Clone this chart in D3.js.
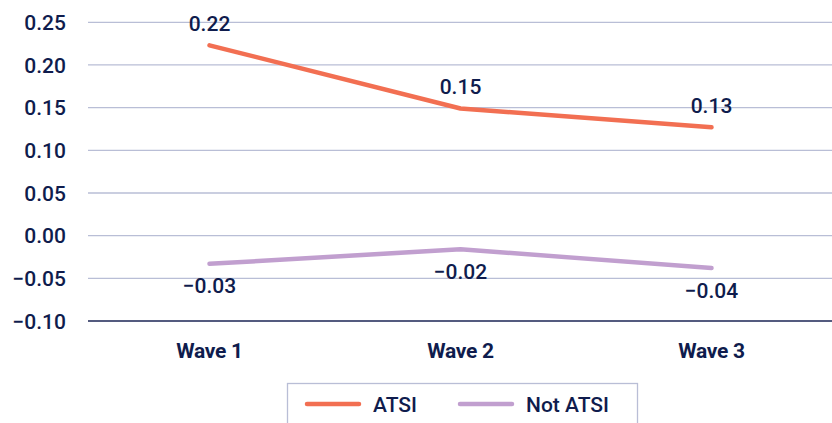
<!DOCTYPE html>
<html><head><meta charset="utf-8">
<script src="https://cdn.jsdelivr.net/npm/d3@7"></script>
<style>
html,body{margin:0;padding:0;background:#fff;}
svg{display:block;font-family:Roboto, "Noto Sans", sans-serif;}
</style></head>
<body><svg id="c" width="832" height="423"></svg>
<script>
const categories = ["Wave 1", "Wave 2", "Wave 3"];
const atsi = [0.223, 0.149, 0.127];
const notAtsi = [-0.033, -0.016, -0.038];
const atsiLabels = ["0.22", "0.15", "0.13"];
const notAtsiLabels = ["\u22120.03", "\u22120.02", "\u22120.04"];
const yTicks = [-0.10, -0.05, 0.00, 0.05, 0.10, 0.15, 0.20, 0.25];
const seriesNames = ["ATSI", "Not ATSI"];
const colors = ["#f26f52", "#c19fcf"];
const navy = "#0f1c4d";

const svg = d3.select("#c");
const x = d3.scaleBand().domain(categories).range([84, 837]);
const y = d3.scaleLinear().domain([-0.10, 0.25]).range([321, 22.3]);
const cx = c => x(c) + x.bandwidth() / 2;

// gridlines
svg.append("g").selectAll("line").data(yTicks.filter(t => t > -0.1)).join("line")
  .attr("x1", 88).attr("x2", 832)
  .attr("y1", d => y(d)).attr("y2", d => y(d))
  .attr("stroke", "#b9bed6").attr("stroke-width", 1.3);
// baseline axis
svg.append("line").attr("x1", 88).attr("x2", 832).attr("y1", y(-0.10)).attr("y2", y(-0.10))
  .attr("stroke", "#1b2554").attr("stroke-width", 1.5);

// y tick labels
const fmt = v => (v < 0 ? "\u2212" : "") + Math.abs(v).toFixed(2);
svg.append("g").selectAll("text").data(yTicks).join("text")
  .attr("x", 66).attr("y", d => y(d)).attr("dy", "0.36em")
  .attr("text-anchor", "end").attr("font-size", 21).attr("font-weight", 500).attr("fill", navy)
  .text(fmt);

// x labels
svg.append("g").selectAll("text").data(categories).join("text")
  .attr("x", d => cx(d)).attr("y", 358).attr("text-anchor", "middle")
  .attr("font-size", 21).attr("font-weight", 700).attr("fill", navy)
  .attr("letter-spacing", "-0.3")
  .text(d => d);

const line = d3.line().x((d, i) => cx(categories[i])).y(d => y(d));
[atsi, notAtsi].forEach((s, k) => {
  svg.append("path").datum(s).attr("d", line).attr("fill", "none")
    .attr("stroke", colors[k]).attr("stroke-width", 4.5)
    .attr("stroke-linecap", "round").attr("stroke-linejoin", "round");
});

// data labels
svg.append("g").selectAll("text").data(atsi).join("text")
  .attr("x", (d, i) => cx(categories[i])).attr("y", d => y(d) - 22).attr("dy", "0.36em")
  .attr("text-anchor", "middle").attr("font-size", 21).attr("font-weight", 500).attr("fill", navy)
  .text((d, i) => atsiLabels[i]);
svg.append("g").selectAll("text").data(notAtsi).join("text")
  .attr("x", (d, i) => cx(categories[i])).attr("y", d => y(d) + 22).attr("dy", "0.36em")
  .attr("text-anchor", "middle").attr("font-size", 21).attr("font-weight", 500).attr("fill", navy)
  .text((d, i) => notAtsiLabels[i]);

// legend
const lg = svg.append("g");
lg.append("rect").attr("x", 287.5).attr("y", 383.5).attr("width", 350).attr("height", 50)
  .attr("fill", "#fff").attr("stroke", "#b9bed6").attr("stroke-width", 1.3);
const legX = [307, 460];
seriesNames.forEach((n, k) => {
  lg.append("line").attr("x1", legX[k]).attr("x2", legX[k] + 52).attr("y1", 404).attr("y2", 404)
    .attr("stroke", colors[k]).attr("stroke-width", 4.5).attr("stroke-linecap", "round");
  lg.append("text").attr("x", legX[k] + 66).attr("y", 404).attr("dy", "0.36em")
    .attr("font-size", 21).attr("font-weight", 500).attr("fill", navy).text(n);
});
</script></body></html>
